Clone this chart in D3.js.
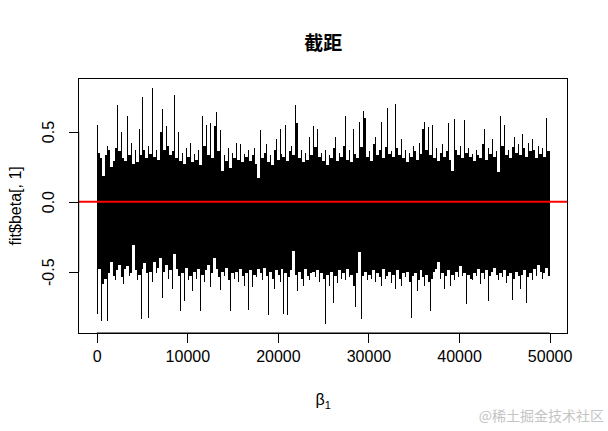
<!DOCTYPE html>
<html>
<head>
<meta charset="utf-8">
<script src="https://cdn.jsdelivr.net/npm/d3@7"></script>
<style>
  html, body { margin: 0; padding: 0; background: #fff; }
  svg { display: block; }
</style>
</head>
<body>
<svg id="chart" width="608" height="431"></svg>
<script>
// ---- data ----
const nIter = 50000;
const chartTitle = "截距";
const yLabel = "fit$beta[, 1]";
const xLabelBase = "β";
const xLabelSub = "1";
const watermark = "@稀土掘金技术社区";
const refLine = 0;
const xTicks = [0, 10000, 20000, 30000, 40000, 50000];
const yTicks = [-0.5, 0.0, 0.5];
const yTickLabels = ["-0.5", "0.0", "0.5"];

// per ~220-iteration block: highest and lowest draw of the trace
const traceHigh = [
  0.55, 0.35, 0.31, 0.18, 0.33, 0.40, 0.37, 0.25, 0.29, 0.38,
  0.69, 0.36, 0.50, 0.31, 0.29, 0.61, 0.33, 0.42, 0.27, 0.37,
  0.28, 0.52, 0.33, 0.75, 0.37, 0.31, 0.40, 0.34, 0.81, 0.32,
  0.37, 0.30, 0.50, 0.66, 0.37, 0.54, 0.40, 0.33, 0.36, 0.76,
  0.31, 0.50, 0.29, 0.35, 0.27, 0.38, 0.32, 0.42, 0.28, 0.34,
  0.30, 0.37, 0.26, 0.61, 0.40, 0.55, 0.33, 0.56, 0.31, 0.54,
  0.64, 0.36, 0.51, 0.22, 0.33, 0.29, 0.38, 0.24, 0.35, 0.31,
  0.42, 0.30, 0.41, 0.28, 0.34, 0.32, 0.37, 0.29, 0.33, 0.38,
  0.27, 0.17, 0.51, 0.31, 0.35, 0.41, 0.28, 0.33, 0.26, 0.37,
  0.45, 0.30, 0.52, 0.34, 0.32, 0.55, 0.29, 0.36, 0.40, 0.33,
  0.69, 0.56, 0.31, 0.37, 0.28, 0.35, 0.30, 0.46, 0.33, 0.54,
  0.39, 0.52, 0.32, 0.35, 0.29, 0.37, 0.26, 0.33, 0.31, 0.38,
  0.46, 0.29, 0.35, 0.32, 0.40, 0.61, 0.30, 0.37, 0.28, 0.52,
  0.34, 0.31, 0.57, 0.39, 0.65, 0.60, 0.32, 0.36, 0.29, 0.41,
  0.46, 0.33, 0.37, 0.57, 0.31, 0.39, 0.67, 0.34, 0.36, 0.32,
  0.70, 0.38, 0.33, 0.45, 0.31, 0.37, 0.28, 0.35, 0.32, 0.40,
  0.36, 0.30, 0.42, 0.34, 0.52, 0.57, 0.37, 0.53, 0.33, 0.55,
  0.31, 0.38, 0.29, 0.35, 0.41, 0.32, 0.36, 0.56, 0.30, 0.22,
  0.59, 0.37, 0.33, 0.40, 0.31, 0.58, 0.35, 0.38, 0.32, 0.34,
  0.29, 0.37, 0.33, 0.31, 0.41, 0.52, 0.30, 0.38, 0.34, 0.45,
  0.32, 0.36, 0.21, 0.61, 0.40, 0.55, 0.33, 0.37, 0.31, 0.39,
  0.46, 0.35, 0.41, 0.33, 0.48, 0.38, 0.32, 0.42, 0.36, 0.45,
  0.37, 0.31, 0.40, 0.34, 0.38, 0.32, 0.60, 0.36
];
const traceLow = [
  -0.80, -0.48, -0.85, -0.59, -0.55, -0.85, -0.51, -0.43, -0.53, -0.56,
  -0.49, -0.45, -0.54, -0.59, -0.48, -0.46, -0.53, -0.51, -0.31, -0.49,
  -0.56, -0.52, -0.84, -0.48, -0.44, -0.51, -0.83, -0.50, -0.57, -0.43,
  -0.51, -0.47, -0.40, -0.69, -0.50, -0.45, -0.55, -0.49, -0.62, -0.37,
  -0.48, -0.53, -0.78, -0.51, -0.71, -0.47, -0.56, -0.53, -0.64, -0.50,
  -0.55, -0.48, -0.78, -0.52, -0.57, -0.49, -0.45, -0.61, -0.51, -0.40,
  -0.48, -0.54, -0.63, -0.50, -0.53, -0.47, -0.56, -0.78, -0.51, -0.55,
  -0.50, -0.57, -0.48, -0.53, -0.60, -0.51, -0.77, -0.49, -0.61, -0.52,
  -0.54, -0.48, -0.51, -0.56, -0.47, -0.53, -0.81, -0.50, -0.55, -0.62,
  -0.49, -0.52, -0.57, -0.48, -0.80, -0.51, -0.81, -0.54, -0.49, -0.35,
  -0.52, -0.64, -0.50, -0.55, -0.60, -0.48, -0.53, -0.56, -0.51, -0.50,
  -0.54, -0.49, -0.57, -0.51, -0.55, -0.87, -0.52, -0.60, -0.50, -0.72,
  -0.53, -0.58, -0.49, -0.55, -0.51, -0.56, -0.48, -0.54, -0.52, -0.60,
  -0.75, -0.51, -0.36, -0.84, -0.53, -0.50, -0.56, -0.52, -0.55, -0.49,
  -0.57, -0.51, -0.54, -0.60, -0.48, -0.55, -0.53, -0.50, -0.58, -0.52,
  -0.62, -0.49, -0.55, -0.60, -0.51, -0.54, -0.50, -0.57, -0.83, -0.53,
  -0.51, -0.64, -0.56, -0.49, -0.54, -0.60, -0.52, -0.57, -0.78, -0.55,
  -0.50, -0.48, -0.43, -0.55, -0.51, -0.62, -0.53, -0.49, -0.60, -0.52,
  -0.56, -0.50, -0.54, -0.46, -0.53, -0.51, -0.73, -0.52, -0.55, -0.56,
  -0.51, -0.53, -0.48, -0.59, -0.51, -0.55, -0.49, -0.71, -0.53, -0.50,
  -0.47, -0.52, -0.56, -0.51, -0.54, -0.49, -0.58, -0.53, -0.51, -0.70,
  -0.55, -0.50, -0.53, -0.62, -0.52, -0.49, -0.72, -0.54, -0.51, -0.56,
  -0.48, -0.53, -0.45, -0.50, -0.55, -0.51, -0.47, -0.53
];

// ---- layout ----
const W = 608, H = 431;
const margin = { top: 78.7, right: 40.3, bottom: 98, left: 78.7 };
const plotL = margin.left, plotR = W - margin.right;
const plotT = margin.top, plotB = H - margin.bottom;
const FONT = "'Liberation Sans', Arial, sans-serif";
const CJK = "'Noto Sans CJK SC', 'Noto Sans CJK JP', sans-serif";

const svg = d3.select("#chart");

// blocks of the trace: each spans blockLen iterations, from its lowest to its highest draw
const nBlocks = traceHigh.length;
const blockLen = (nIter - 1) / nBlocks;
const blocks = traceHigh.map((hi, i) => ({ t: 1 + i * blockLen, hi: hi, lo: traceLow[i] }));
// core: the part of each block shared with the following block (keeps the extremes as thin needles)
const core = blocks.map((b, i) => {
  const n = blocks[Math.min(i + 1, nBlocks - 1)];
  return { t: b.t, hi: Math.min(b.hi, n.hi), lo: Math.max(b.lo, n.lo) };
});
core.push({ t: nIter, hi: core[nBlocks - 1].hi, lo: core[nBlocks - 1].lo });

// R-style 4% padded scales
const xPad = 0.04 * (nIter - 1);
const x = d3.scaleLinear().domain([1 - xPad, nIter + xPad]).range([plotL, plotR]);
const yMin = d3.min(traceLow), yMax = d3.max(traceHigh);
const yPad = 0.04 * (yMax - yMin);
const y = d3.scaleLinear().domain([yMin - yPad, yMax + yPad]).range([plotB, plotT]);

// trace core
svg.append("path")
  .datum(core)
  .attr("fill", "#000")
  .attr("stroke", "none")
  .attr("shape-rendering", "crispEdges")
  .attr("d", d3.area().curve(d3.curveStepAfter)
    .x(d => x(d.t)).y0(d => y(d.lo)).y1(d => y(d.hi)));

// trace needles: full range of each block
svg.append("g").selectAll("line")
  .data(blocks)
  .join("line")
  .attr("x1", d => x(d.t) + 0.5).attr("x2", d => x(d.t) + 0.5)
  .attr("y1", d => y(d.lo)).attr("y2", d => y(d.hi))
  .attr("stroke", "#000").attr("stroke-width", 1)
  .attr("shape-rendering", "crispEdges");

// reference line
svg.append("line")
  .attr("x1", plotL).attr("x2", plotR)
  .attr("y1", y(refLine)).attr("y2", y(refLine))
  .attr("stroke", "#ff0000").attr("stroke-width", 2);

// box
svg.append("rect")
  .attr("x", plotL).attr("y", plotT)
  .attr("width", plotR - plotL).attr("height", plotB - plotT)
  .attr("fill", "none").attr("stroke", "#000").attr("stroke-width", 1)
  .attr("shape-rendering", "crispEdges");

// x axis
const xAxis = d3.axisBottom(x).tickValues(xTicks).tickSize(10).tickPadding(6)
  .tickFormat(d3.format("d"));
const gx = svg.append("g").attr("transform", `translate(0,${plotB})`).call(xAxis);
gx.select(".domain").attr("d", `M${x(xTicks[0])},0H${x(xTicks[xTicks.length - 1])}`);
gx.selectAll("line").attr("shape-rendering", "crispEdges");
gx.selectAll("text").attr("font-family", FONT).attr("font-size", 16).attr("fill", "#000")
  .attr("dy", null).attr("y", 29);

// y axis
const yAxis = d3.axisLeft(y).tickValues(yTicks).tickSize(10)
  .tickFormat((d, i) => yTickLabels[i]);
const gy = svg.append("g").attr("transform", `translate(${plotL},0)`).call(yAxis);
gy.select(".domain").attr("d", `M0,${y(yTicks[0])}V${y(yTicks[yTicks.length - 1])}`);
gy.selectAll("line").attr("shape-rendering", "crispEdges");
gy.selectAll("text")
  .attr("font-family", FONT).attr("font-size", 16).attr("fill", "#000")
  .attr("x", null).attr("dy", null)
  .attr("text-anchor", "middle")
  .attr("transform", "translate(-25,0) rotate(-90)")
  .attr("y", 0);

// title
svg.append("text")
  .attr("x", (plotL + plotR) / 2).attr("y", 50)
  .attr("text-anchor", "middle")
  .attr("font-family", CJK).attr("font-weight", "bold").attr("font-size", 19)
  .attr("fill", "#000")
  .text(chartTitle);

// y label
svg.append("text")
  .attr("transform", `translate(21,${(plotT + plotB) / 2}) rotate(-90)`)
  .attr("text-anchor", "middle")
  .attr("font-family", FONT).attr("font-size", 16).attr("fill", "#000")
  .text(yLabel);

// x label
const xl = svg.append("text")
  .attr("x", (plotL + plotR) / 2).attr("y", 405)
  .attr("text-anchor", "middle")
  .attr("font-family", FONT).attr("font-size", 16).attr("fill", "#000");
xl.append("tspan").text(xLabelBase);
xl.append("tspan").attr("font-size", 11).attr("dy", 4).text(xLabelSub);

// watermark
svg.append("text")
  .attr("x", 604).attr("y", 421)
  .attr("text-anchor", "end")
  .attr("font-family", CJK).attr("font-size", 14).attr("fill", "#c4c4c4")
  .text(watermark);
</script>
</body>
</html>
